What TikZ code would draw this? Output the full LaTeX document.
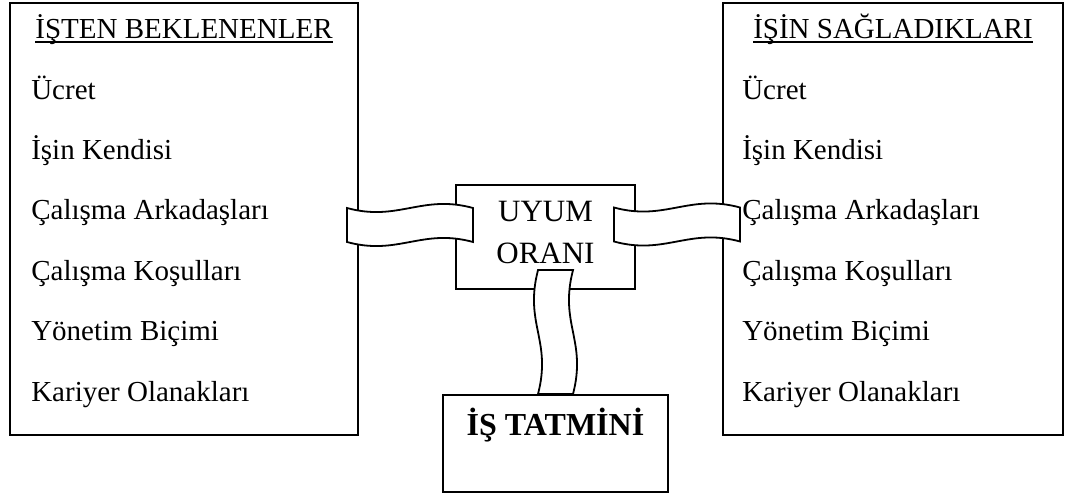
\documentclass[tikz,border=0pt]{standalone}
\usepackage{fontspec}
\setmainfont{Liberation Serif}
\usepackage{tikz}
\usetikzlibrary{positioning,calc}

\newsavebox\headbox
\newcommand\headline[1]{\sbox\headbox{#1}%
  \rlap{\rule[-5pt]{\wd\headbox}{1.6pt}}\usebox\headbox}

\begin{document}
\begin{tikzpicture}[x=1pt, y=1pt,
    box/.style={draw, line width=1.8pt, inner sep=0pt},
    txt/.style={font=\fontsize{29}{42}\selectfont, inner sep=0pt},
    band/.style={draw, fill=white, line width=1.8pt},
    hband/.pic={
      \path[band] (-63,17) .. controls (-12,3) and (12,31) .. (63,17)
        -- (63,-17) .. controls (12,-3) and (-12,-31) .. (-63,-17) -- cycle;
    },
    vband/.pic={
      \path[band] (-17.5,0) -- (17.5,0)
        .. controls (31.5,54) and (3.5,70) .. (17.5,124)
        -- (-17.5,124) .. controls (-31.5,70) and (-3.5,54) .. (-17.5,0) -- cycle;
    }]
  \useasboundingbox (0,0) rectangle (1069,496);

  % the two lists
  \node[box, minimum width=348, minimum height=432] (expect) at (184,277) {};
  \node[box, minimum width=340, minimum height=432] (offer) at (893,277) {};
  \node[txt, anchor=base] (expecthead) at ([yshift=-36]expect.north)
    {\headline{İŞTEN BEKLENENLER}};
  \node[txt, anchor=base] (offerhead) at ([yshift=-36]offer.north)
    {\headline{İŞİN SAĞLADIKLARI}};
  \foreach \item [count=\k] in {Ücret, İşin Kendisi, Çalışma Arkadaşları,
      Çalışma Koşulları, Yönetim Biçimi, Kariyer Olanakları} {
    \node[txt, anchor=base west] (expect\k)
      at ([xshift=22, yshift={-97-60.4*(\k-1)}]expect.north west) {\item};
    \node[txt, anchor=base west] (offer\k)
      at ([xshift=20, yshift={-97-60.4*(\k-1)}]offer.north west) {\item};
  }

  % middle and result
  \node[box, minimum width=179, minimum height=104] (uyum) at (545.5,259) {};
  \node[txt, align=center, font=\fontsize{31}{42}\selectfont] (uyumtext)
    at ([yshift=4]uyum.center) {UYUM\\ORANI};
  \node[box, minimum width=225, minimum height=97] (tatmin) at (555.5,52.5) {};
  \node[txt, anchor=base, font=\fontsize{32}{42}\selectfont\bfseries] (tatmintext)
    at ([yshift=-41]tatmin.north) {İŞ TATMİNİ};

  % ribbons
  \pic at ($(expect.east)!0.5!(uyum.west)+(3,3)$) {hband};
  \pic at ($(uyum.east)!0.5!(offer.west)+(-2,3.5)$) {hband};
  \pic at (tatmin.north) {vband};
\end{tikzpicture}
\end{document}
